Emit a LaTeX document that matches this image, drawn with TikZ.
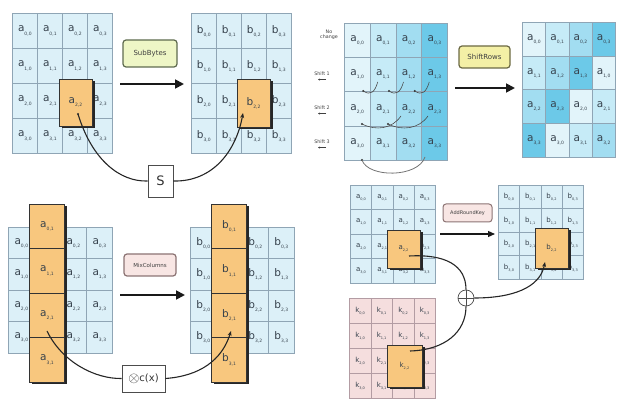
\documentclass[tikz,border=0pt]{standalone}
\usepackage{fontspec}
\setmainfont{DejaVu Sans}
\usetikzlibrary{arrows.meta,shadows}

\definecolor{cellblue}{HTML}{DCF0F8}
\definecolor{gridline}{HTML}{8FA5B5}
\definecolor{hiorange}{HTML}{F8C77E}
\definecolor{keypink}{HTML}{F5DEDE}
\definecolor{keyline}{HTML}{B39CA3}
\definecolor{sr0}{HTML}{E2F4FA}
\definecolor{sr1}{HTML}{C6EBF7}
\definecolor{sr2}{HTML}{A2DDF1}
\definecolor{sr3}{HTML}{6CC9E8}
\definecolor{txt}{HTML}{36414C}
\definecolor{sbfill}{HTML}{EEF6C6}
\definecolor{sbline}{HTML}{5F6B4F}
\definecolor{srfill}{HTML}{F4F0A6}
\definecolor{srline}{HTML}{6C6A44}
\definecolor{mcfill}{HTML}{F8E6E4}
\definecolor{mcline}{HTML}{8C7474}

% letter with a lowered index pair
\newcommand\sub[2]{#1\raisebox{-0.3em}{\fontsize{4.5}{5}\selectfont #2}}
\newcommand\subs[2]{#1\raisebox{-0.3em}{\fontsize{3.5}{4}\selectfont #2}}

% cells whose label is carried by a highlight box on top
\newcommand\skipcell[3]{\expandafter\def\csname skip@#1@#2@#3\endcsname{}}

% 4x4 state grid: name, x0, y0, cell width, cell height, letter, extra style, label command
\newcommand\cellgrid[8]{%
  \foreach \r in {0,...,3}{\foreach \c in {0,...,3}{%
    \node[cell,#7,minimum width=#4pt,minimum height=#5pt]
      (#1-\r-\c) at ({#2+\c*#4},{#3+\r*#5})
      {\ifcsname skip@#1@\r@\c\endcsname\else#8{#6}{\r,\c}\fi};}}}

\tikzset{
  cell/.style={draw=gridline, line width=0.7pt, fill=cellblue, inner sep=0pt,
    text=txt, font=\fontsize{10.5}{10.5}\selectfont, anchor=north west},
  smallcell/.style={font=\fontsize{7}{7}\selectfont},
  keycell/.style={fill=keypink, draw=keyline},
  hi/.style={draw=black!80, line width=0.9pt, fill=hiorange, inner sep=0pt,
    text=txt, font=\fontsize{10.5}{10.5}\selectfont,
    drop shadow={shadow xshift=2.5pt, shadow yshift=-2.5pt, opacity=1, fill=black!85}},
  barcell/.style={draw=black!80, line width=0.9pt, fill=hiorange, inner sep=0pt,
    text=txt, font=\fontsize{10.5}{10.5}\selectfont},
  opbox/.style={rounded corners=3pt, line width=1.2pt, inner sep=1pt,
    font=\fontsize{7}{7}\selectfont, text=black!75},
  bigarrow/.style={line width=1.8pt, black!90, -{Triangle[length=9pt,width=9pt]}},
  conn/.style={line width=1.1pt, black!85, -{Stealth[length=5pt,width=4pt]}},
  plainconn/.style={line width=1.1pt, black!85},
  lbl/.style={font=\fontsize{4.8}{5.3}\selectfont, text=black!75, align=center, inner sep=0.5pt},
  hook/.style={line width=0.6pt, black!70},
  dotmark/.style={circle, fill=black!80, inner sep=0pt, minimum size=2.4pt},
}

\begin{document}
\begin{tikzpicture}[x=1pt,y=-1pt]
\useasboundingbox (0,0) rectangle (625,401);

%% ---------------- SubBytes ----------------
\skipcell{SA}{2}{2}\skipcell{SB}{2}{2}
\cellgrid{SA}{12}{13}{25}{35}{a}{}{\sub}
\cellgrid{SB}{191}{13}{25}{35}{b}{}{\sub}
\node[hi, minimum width=33pt, minimum height=47pt] (SA22) at (75.5,102.5) {\sub{a}{2,2}};
\node[hi, minimum width=33pt, minimum height=48pt] (SB22) at (253.5,103) {\sub{b}{2,2}};
\node[opbox, draw=sbline, fill=sbfill, minimum width=54pt, minimum height=27pt] (subbytes) at (150,53.5) {SubBytes};
\coordinate (sbs) at (120,84);
\coordinate (sbe) at (184,84);
\draw[bigarrow] (sbs) -- (sbe);
\node[draw=black!70, line width=0.8pt, fill=white, minimum width=25pt, minimum height=32pt,
      inner sep=0pt, font=\fontsize{13}{13}\selectfont, text=black!80] (S) at (160.5,181) {S};
\coordinate (sa) at (78,114);
\coordinate (sb) at (243,113);
\node[dotmark] at (sa) {};
\draw[plainconn] (sa) .. controls (92,160) and (120,182) .. (S.west);
\draw[conn] (S.east) .. controls (212,182) and (236,152) .. (sb);

%% ---------------- ShiftRows ----------------
\foreach \r in {0,...,3}{\foreach \c in {0,...,3}{%
  \node[cell, fill=sr\c, minimum width=25.75pt, minimum height=34.25pt]
    (RL-\r-\c) at ({344+\c*25.75},{23+\r*34.25}) {\sub{a}{\r,\c}};}}
\foreach \r in {0,...,3}{\foreach \c in {0,...,3}{%
  \pgfmathtruncatemacro\s{mod(\c+\r,4)}
  \node[cell, fill=sr\s, minimum width=23.25pt, minimum height=33.75pt]
    (RR-\r-\c) at ({522+\c*23.25},{22+\r*33.75}) {\sub{a}{\r,\s}};}}
\node[opbox, draw=srline, fill=srfill, minimum width=51pt, minimum height=22pt] (shiftrows) at (484.5,57) {ShiftRows};
\coordinate (srs) at (455,88);
\coordinate (sre) at (515,88);
\draw[bigarrow] (srs) -- (sre);

\node[lbl] (nochange) at (329,35) {No\\change};
\node[lbl] (shA) at (322,74) {Shift 1};
\node[lbl] (shB) at (322,108) {Shift 2};
\node[lbl] (shC) at (322,142) {Shift 3};
\foreach \n in {shA,shB,shC}{
  \draw[line width=0.5pt, black!75, -{Stealth[length=2pt,width=2pt]}]
    ([xshift=4pt,yshift=-3pt]\n.south) -- ([xshift=-4pt,yshift=-3pt]\n.south);}

% row 1 moves one place left
\foreach \bx in {369.75,395.5,421.25}{
  \coordinate (h1s) at ({\bx-6.5},91);
  \coordinate (h1e) at ({\bx+8},82);
  \node[dotmark] at (h1s) {};
  \draw[hook] (h1s) .. controls ({\bx+1},96) and ({\bx+5},92) .. (h1e);}
% row 2 moves two places left
\coordinate (h2a) at (362,124);
\coordinate (h2b) at (388,124);
\coordinate (h2c) at (401,116);
\coordinate (h2d) at (428,116);
\node[dotmark] at (h2a) {};
\node[dotmark] at (h2b) {};
\draw[hook] (h2a) .. controls (376,131) and (392,129) .. (h2c);
\draw[hook] (h2b) .. controls (402,131) and (419,129) .. (h2d);
% row 3 moves three places left
\coordinate (h3a) at (362,160);
\coordinate (h3b) at (425,157);
\node[dotmark] at (h3a) {};
\draw[hook, line width=0.8pt, black!55] (h3a) .. controls (368,178) and (418,178) .. (h3b);

%% ---------------- MixColumns ----------------
\skipcell{MA}{0}{1}\skipcell{MA}{1}{1}\skipcell{MA}{2}{1}\skipcell{MA}{3}{1}
\skipcell{MB}{0}{1}\skipcell{MB}{1}{1}\skipcell{MB}{2}{1}\skipcell{MB}{3}{1}
\cellgrid{MA}{8}{227}{26}{31.5}{a}{}{\sub}
\cellgrid{MB}{190}{227}{26}{31.5}{b}{}{\sub}
\node[hi, minimum width=35pt, minimum height=178pt] (MAbar) at (47,293) {};
\node[hi, minimum width=35pt, minimum height=178pt] (MBbar) at (229,293) {};
\foreach \r in {0,...,3}{
  \node[barcell, minimum width=35pt, minimum height=44.5pt] (MAc-\r) at (47,{226.25+44.5*\r}) {\sub{a}{\r,1}};
  \node[barcell, minimum width=35pt, minimum height=44.5pt] (MBc-\r) at (229,{226.25+44.5*\r}) {\sub{b}{\r,1}};}
\node[opbox, draw=mcline, fill=mcfill, minimum width=52pt, minimum height=22pt,
      font=\fontsize{5.5}{5.5}\selectfont] (mixcolumns) at (150,265) {MixColumns};
\coordinate (mcs) at (120,295);
\coordinate (mce) at (185,295);
\draw[bigarrow] (mcs) -- (mce);
\node[draw=black!70, line width=0.8pt, fill=white, minimum width=43pt, minimum height=27pt,
      inner sep=0pt, font=\fontsize{10}{10}\selectfont, text=black!80] (cx) at (143.5,378.5)
      {\raisebox{-0.5pt}{\Large$\otimes$}c(x)};
\coordinate (ma) at (47,331);
\coordinate (mb) at (231,331);
\draw[plainconn] (ma) .. controls (62,362) and (95,379) .. (cx.west);
\draw[conn] (cx.east) .. controls (200,376) and (222,360) .. (mb);

%% ---------------- AddRoundKey ----------------
\skipcell{KA}{2}{2}\skipcell{KK}{2}{2}\skipcell{KB}{2}{2}
\cellgrid{KA}{350}{185}{21.25}{24.5}{a}{smallcell}{\subs}
\cellgrid{KK}{349}{298}{21.5}{25}{k}{smallcell,keycell}{\subs}
\cellgrid{KB}{498}{185}{21.25}{23.5}{b}{smallcell}{\subs}
\node[hi, minimum width=33pt, minimum height=38pt, font=\fontsize{7}{7}\selectfont] (KA22) at (403.5,249) {\subs{a}{2,2}};
\node[hi, minimum width=35pt, minimum height=42pt, font=\fontsize{7}{7}\selectfont] (KK22) at (404.5,366) {\subs{k}{2,2}};
\node[hi, minimum width=33pt, minimum height=40pt, font=\fontsize{7}{7}\selectfont] (KB22) at (551.5,248) {\subs{b}{2,2}};
\node[opbox, draw=mcline, fill=mcfill, minimum width=49pt, minimum height=18pt, line width=1pt,
      font=\fontsize{5}{5}\selectfont] (addroundkey) at (467.5,213) {AddRoundKey};
\coordinate (ars) at (440,234);
\coordinate (are) at (495,234);
\draw[line width=1.2pt, black!90, -{Triangle[length=7pt,width=6pt]}] (ars) -- (are);
\node[circle, draw=black!70, line width=0.7pt, fill=white, minimum size=16pt, inner sep=0pt,
      path picture={\draw[black!70, line width=0.7pt]
        (path picture bounding box.west) -- (path picture bounding box.east)
        (path picture bounding box.north) -- (path picture bounding box.south);}] (xor) at (466,298) {};
\coordinate (ka) at (409,256);
\coordinate (kk) at (410,351);
\coordinate (kb) at (545,262);
\draw[plainconn] (ka) .. controls (445,254) and (466,265) .. (xor.north);
\draw[plainconn] (kk) .. controls (445,350) and (466,332) .. (xor.south);
\draw[conn] (xor.east) .. controls (512,298) and (540,288) .. (kb);
\end{tikzpicture}
\end{document}
